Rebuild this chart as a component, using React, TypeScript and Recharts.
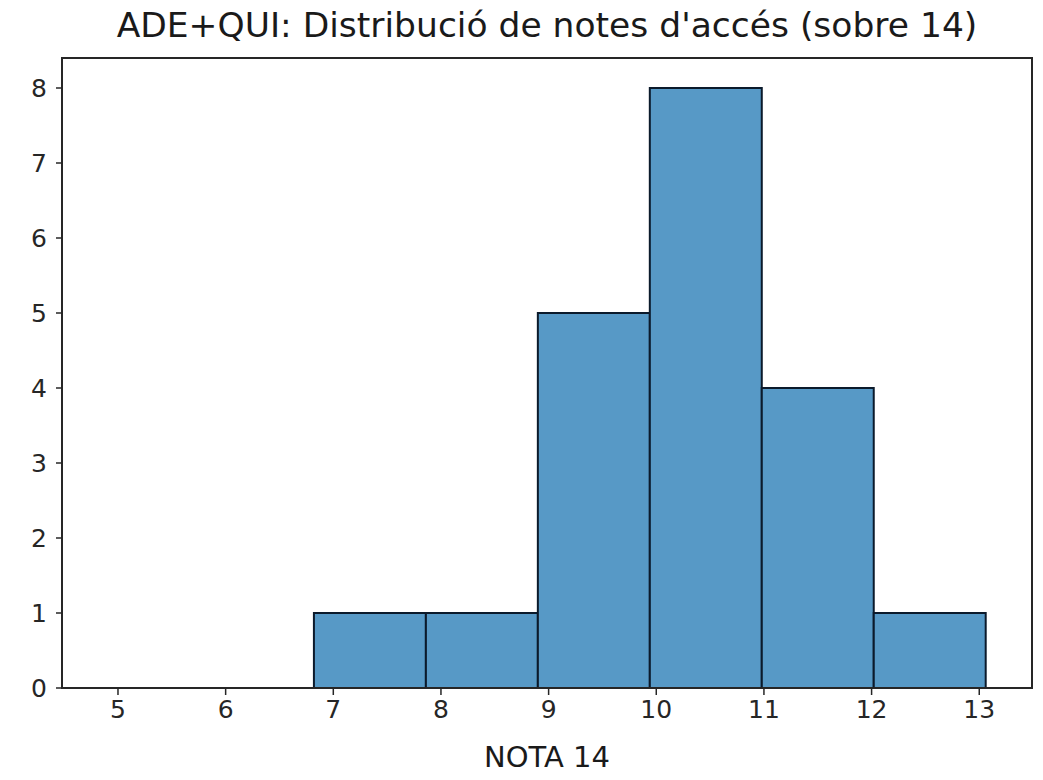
import { ComposedChart, Line, XAxis, YAxis, ReferenceArea } from 'recharts'

const binStart = [6.82, 7.86, 8.9, 9.94, 10.98, 12.02]
const binEnd = [7.86, 8.9, 9.94, 10.98, 12.02, 13.06]
const counts = [1, 1, 5, 8, 4, 1]
const xTicks = [5, 6, 7, 8, 9, 10, 11, 12, 13]
const yTicks = [0, 1, 2, 3, 4, 5, 6, 7, 8]

const X_DOMAIN: [number, number] = [4.48, 13.49]
const Y_DOMAIN: [number, number] = [0, 8.4]
const FILL = '#5799c6'
const EDGE = '#0b1a2b'
const FRAME = '#262626'
const FONT = 'DejaVu Sans'
const TICK = { fontSize: 25, fill: '#262626', fontFamily: FONT }

const data = binStart.map((s, i) => ({ mid: (s + binEnd[i]) / 2, count: counts[i] }))

export default function App() {
  return (
    <div style={{ position: 'absolute', left: 0, top: 0, width: 1043, height: 780, background: '#fff' }}>
      <div style={{ position: 'absolute', left: 62, width: 970, top: 5, textAlign: 'center', fontFamily: FONT, fontSize: 34.5, color: '#1a1a1a' }}>
        ADE+QUI: Distribució de notes d'accés (sobre 14)
      </div>
      <ComposedChart width={1043} height={780} data={data} margin={{ top: 58, right: 11, bottom: 0, left: 12 }}>
        <XAxis dataKey="mid" type="number" domain={X_DOMAIN} ticks={xTicks} allowDataOverflow interval={0}
          tick={TICK} tickSize={7} tickMargin={5} tickLine={{ stroke: FRAME, strokeWidth: 1.5 }}
          axisLine={{ stroke: FRAME, strokeWidth: 2 }} height={92}
          label={{ value: 'NOTA 14', position: 'insideTop', offset: 58, fontSize: 29, fill: '#1a1a1a', fontFamily: FONT }} />
        <YAxis type="number" domain={Y_DOMAIN} ticks={yTicks} allowDataOverflow interval={0} width={50}
          tick={TICK} tickSize={6} tickMargin={9} tickLine={{ stroke: FRAME, strokeWidth: 1.5 }}
          axisLine={{ stroke: FRAME, strokeWidth: 2 }} />
        <ReferenceArea x1={X_DOMAIN[0]} x2={X_DOMAIN[1]} y1={Y_DOMAIN[0]} y2={Y_DOMAIN[1]} fill="none"
          stroke={FRAME} strokeWidth={2} ifOverflow="visible" />
        {binStart.map((s, i) => (
          <ReferenceArea key={i} x1={s} x2={binEnd[i]} y1={0} y2={counts[i]} fill={FILL} fillOpacity={1}
            stroke={EDGE} strokeWidth={2} ifOverflow="visible" />
        ))}
        <Line dataKey="count" stroke="transparent" dot={false} activeDot={false} legendType="none" isAnimationActive={false} />
      </ComposedChart>
    </div>
  )
}
